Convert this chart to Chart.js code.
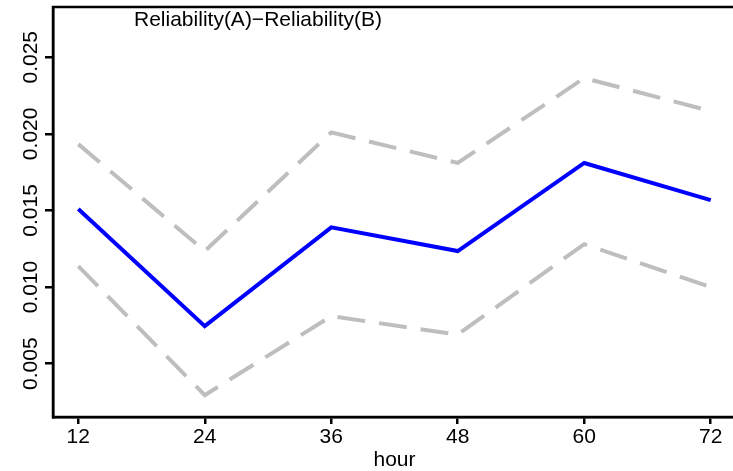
<!DOCTYPE html>
<html>
<head>
<meta charset="utf-8">
<script src="https://cdn.jsdelivr.net/npm/chart.js@4"></script>
<style>
  html, body { margin: 0; padding: 0; overflow: hidden; background: #fff; }
  #wrap { width: 740px; height: 471px; }
</style>
</head>
<body>
<div id="wrap"><canvas id="diffChart"></canvas></div>
<script>
// values
const hours = [12, 24, 36, 48, 60, 72];
const estimate = [0.0151, 0.00745, 0.0139, 0.01235, 0.0181, 0.01568];
const upperBound = [0.01933, 0.01235, 0.0201, 0.0181, 0.02364, 0.02149];
const lowerBound = [0.01137, 0.00295, 0.0081, 0.0069, 0.0128, 0.0100];
const yTicks = [0.005, 0.010, 0.015, 0.020, 0.025];
const chartTitle = 'Reliability(A)\u2212Reliability(B)';
const xLabel = 'hour';

const FONT = '"Liberation Sans", Arial, sans-serif';

function toPoints(values) {
    return hours.map((h, i) => ({ x: h, y: values[i] }));
}

// frame round the plot + title inside the plot area
const boxAndTitle = {
    id: 'boxAndTitle',
    afterDraw(chart) {
        const { ctx, chartArea: a } = chart;
        ctx.save();
        ctx.strokeStyle = '#000';
        ctx.lineWidth = 2.5;
        ctx.strokeRect(a.left, a.top, a.right - a.left, a.bottom - a.top);
        ctx.font = '21px ' + FONT;
        ctx.fillStyle = '#000';
        ctx.textAlign = 'center';
        ctx.textBaseline = 'middle';
        ctx.fillText(chartTitle, 258, 20.5);
        ctx.restore();
    }
};

const dashed = {
    borderColor: '#BEBEBE',
    borderWidth: 4,
    borderDash: [28, 14],
    pointRadius: 0,
    tension: 0,
    fill: false
};

const ctx = document.getElementById('diffChart').getContext('2d');
new Chart(ctx, {
    type: 'line',
    data: {
        datasets: [
            Object.assign({ label: 'upper', data: toPoints(upperBound) }, dashed),
            Object.assign({ label: 'lower', data: toPoints(lowerBound) }, dashed),
            {
                label: 'difference',
                data: toPoints(estimate),
                borderColor: '#0000FF',
                borderWidth: 4,
                pointRadius: 0,
                tension: 0,
                fill: false
            }
        ]
    },
    options: {
        responsive: true,
        maintainAspectRatio: false,
        animation: false,
        layout: { padding: { top: 7, right: 4, left: 0, bottom: 0 } },
        plugins: {
            legend: { display: false },
            tooltip: { enabled: false }
        },
        scales: {
            x: {
                type: 'linear',
                min: 9.6,
                max: 74.4,
                afterBuildTicks: axis => { axis.ticks = hours.map(v => ({ value: v })); },
                afterFit: axis => { axis.height = 54; },
                grid: { drawOnChartArea: false, drawTicks: true, tickLength: 7, color: '#000', lineWidth: 2.5 },
                border: { display: true, color: '#000', width: 2.5 },
                ticks: { color: '#000', font: { family: FONT, size: 21 }, padding: 1, maxRotation: 0, autoSkip: false },
                title: { display: true, text: xLabel, color: '#000', font: { family: FONT, size: 21 }, padding: { top: 0, bottom: -2 } }
            },
            y: {
                type: 'linear',
                min: 0.00152,
                max: 0.02828,
                afterBuildTicks: axis => { axis.ticks = yTicks.map(v => ({ value: v })); },
                afterFit: axis => { axis.width = 53; },
                grid: { drawOnChartArea: false, drawTicks: true, tickLength: 8, color: '#000', lineWidth: 2.5 },
                border: { display: true, color: '#000', width: 2.5 },
                ticks: {
                    color: '#000',
                    font: { family: FONT, size: 21 },
                    minRotation: 90,
                    maxRotation: 90,
                    crossAlign: 'center',
                    padding: -12,
                    callback: v => v.toFixed(3)
                }
            }
        }
    },
    plugins: [boxAndTitle]
});
</script>
</body>
</html>
